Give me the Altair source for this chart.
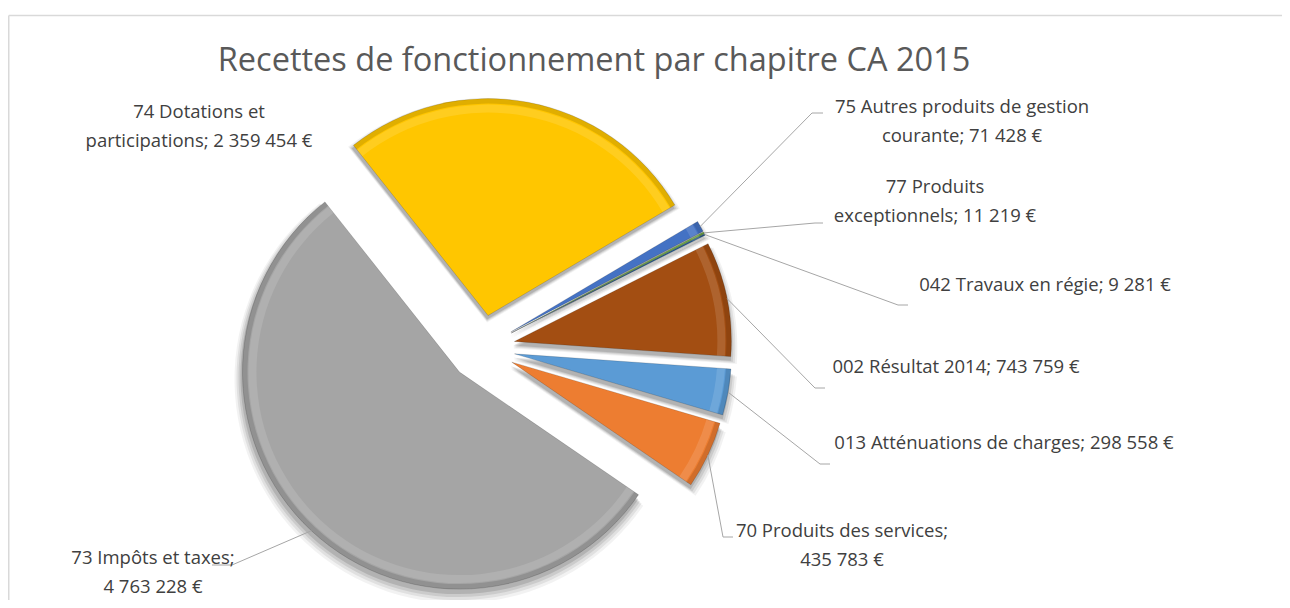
import altair as alt
import pandas as pd

# ---------------- data ----------------
categories = [
    "013 Atténuations de charges",
    "70 Produits des services",
    "73 Impôts et taxes",
    "74 Dotations et participations",
    "75 Autres produits de gestion courante",
    "77 Produits exceptionnels",
    "042 Travaux en régie",
    "002 Résultat 2014",
]
values = [298558, 435783, 4763228, 2359454, 71428, 11219, 9281, 743759]
colors = ["#5B9BD5", "#ED7D31", "#A5A5A5", "#FFC600", "#4472C4", "#70AD47", "#255E91", "#A34E12"]
# where each label wraps onto a second line (None = single line)
wrap_after = [None, "services;", "taxes;", "Dotations et", "de gestion", "Produits", None, None]

title_text = "Recettes de fonctionnement par chapitre CA 2015"

# ---------------- layout (page pixel coordinates) ----------------
M = 8  # page margin
label_x = [1004, 842, 153, 199, 962, 935, 1045, 956]
label_y = [443, 531, 558, 112, 107, 187, 285, 367]   # centre of first line
elbow_x = [820, 723, 232, None, 812, 815, 898, 815]
elbow_y = [464, 537, 565, None, 113, 223, 305, 388]
end_x = [830, 733, 212, None, 823, 823, 908, 825]
end_y = [464, 537, 565, None, 113, 223, 305, 388]

CX, CY = 482 - M, 348 - M       # pie centre
R = 217                          # radius
EXPLODE = 33                     # explosion distance
LEAD_R = R + EXPLODE             # leader start distance
START_DEG = 94.0                 # angle of first slice

W, H = 1274, 592


def fmt(v):
    return f"{v:,}".replace(",", " ")


labels = []
for c, v, w in zip(categories, values, wrap_after):
    t = f"{c}; {fmt(v)} €"
    if w:
        t = t.replace(w + " ", w + "\n", 1)
    labels.append(t)

df = pd.DataFrame({
    "cat": categories,
    "value": values,
    "order": list(range(len(categories))),
    "label": labels,
    "lx": [x - M for x in label_x],
    "ly": [y - M for y in label_y],
    "ex": [None if x is None else x - M for x in elbow_x],
    "ey": [None if y is None else y - M for y in elbow_y],
    "fx": [None if x is None else x - M for x in end_x],
    "fy": [None if y is None else y - M for y in end_y],
})

color_scale = alt.Scale(domain=categories, range=colors)

base = (
    alt.Chart(df)
    .transform_window(cum="sum(value)", sort=[alt.SortField("order")], frame=[None, 0])
    .transform_joinaggregate(total="sum(value)")
    .transform_calculate(
        a0=f"{START_DEG}*PI/180 + (datum.cum - datum.value)/datum.total*2*PI",
        a1=f"{START_DEG}*PI/180 + datum.cum/datum.total*2*PI",
        mid="(datum.a0 + datum.a1)/2",
        cx=f"{CX} + {EXPLODE}*sin(datum.mid)",
        cy=f"{CY} - {EXPLODE}*cos(datum.mid)",
        sx=f"{CX} + {LEAD_R}*sin(datum.mid)",
        sy=f"{CY} - {LEAD_R}*cos(datum.mid)",
    )
)

# soft shadow built from a few translucent, growing copies
shadows = []
for k, (grow, dy, op) in enumerate([(7, 7, 0.05), (5, 6, 0.07), (3, 5, 0.09), (1, 4, 0.12)]):
    shadows.append(
        base.transform_calculate(shx="datum.cx - 1", shy=f"datum.cy + {dy}")
        .mark_arc(radius=R + grow, color="#000000", opacity=op)
        .encode(
            theta=alt.Theta("a0:Q", scale=None),
            theta2="a1:Q",
            x=alt.X("shx:Q", scale=None),
            y=alt.Y("shy:Q", scale=None),
        )
    )

arc_enc = dict(
    theta=alt.Theta("a0:Q", scale=None),
    theta2="a1:Q",
    x=alt.X("cx:Q", scale=None),
    y=alt.Y("cy:Q", scale=None),
)

slices = base.mark_arc(radius=R).encode(
    color=alt.Color("cat:N", scale=color_scale, legend=None), **arc_enc
)
# bevel: dark outer rim, light inner highlight
rim_dark = base.mark_arc(radius=R, radius2=R - 5, color="#000000", opacity=0.12).encode(**arc_enc)
rim_light = base.mark_arc(radius=R - 6, radius2=R - 14, color="#ffffff", opacity=0.12).encode(**arc_enc)
edge = base.mark_arc(radius=R, fillOpacity=0, stroke="#000000", strokeOpacity=0.15, strokeWidth=1).encode(**arc_enc)

lead1 = base.transform_filter("datum.ex != null").mark_rule(color="#A6A6A6", strokeWidth=1).encode(
    x=alt.X("sx:Q", scale=None), y=alt.Y("sy:Q", scale=None),
    x2="ex:Q", y2="ey:Q",
)
lead2 = base.transform_filter("datum.ex != null").mark_rule(color="#A6A6A6", strokeWidth=1).encode(
    x=alt.X("ex:Q", scale=None), y=alt.Y("ey:Q", scale=None),
    x2="fx:Q", y2="fy:Q",
)

text = alt.Chart(df).mark_text(
    font="Open Sans", fontSize=18.5, color="#404040", align="center",
    baseline="middle", lineBreak="\n", lineHeight=28.5,
).encode(
    x=alt.X("lx:Q", scale=None), y=alt.Y("ly:Q", scale=None), text="label:N",
)

title = alt.Chart(pd.DataFrame({"t": [title_text]})).mark_text(
    font="Open Sans", fontSize=32.5, color="#595959", align="center", baseline="alphabetic",
).encode(x=alt.value(594 - M), y=alt.value(71 - M), text="t:N")

border_top = alt.Chart(pd.DataFrame({"t": [0]})).mark_rule(color="#D9D9D9", strokeWidth=1.5).encode(
    x=alt.value(0.75), x2=alt.value(W), y=alt.value(15.5 - M)
)
border_left = alt.Chart(pd.DataFrame({"t": [0]})).mark_rule(color="#D9D9D9", strokeWidth=1.5).encode(
    x=alt.value(0.75), y=alt.value(15.5 - M), y2=alt.value(H)
)

chart = alt.layer(
    border_top, border_left, *shadows, slices, rim_dark, rim_light, edge, lead1, lead2, text, title
).properties(
    width=W, height=H, padding=0, autosize="none", background="#ffffff"
).configure_view(stroke=None)

chart.save("out.html", embed_options={"renderer": "svg", "actions": False})
